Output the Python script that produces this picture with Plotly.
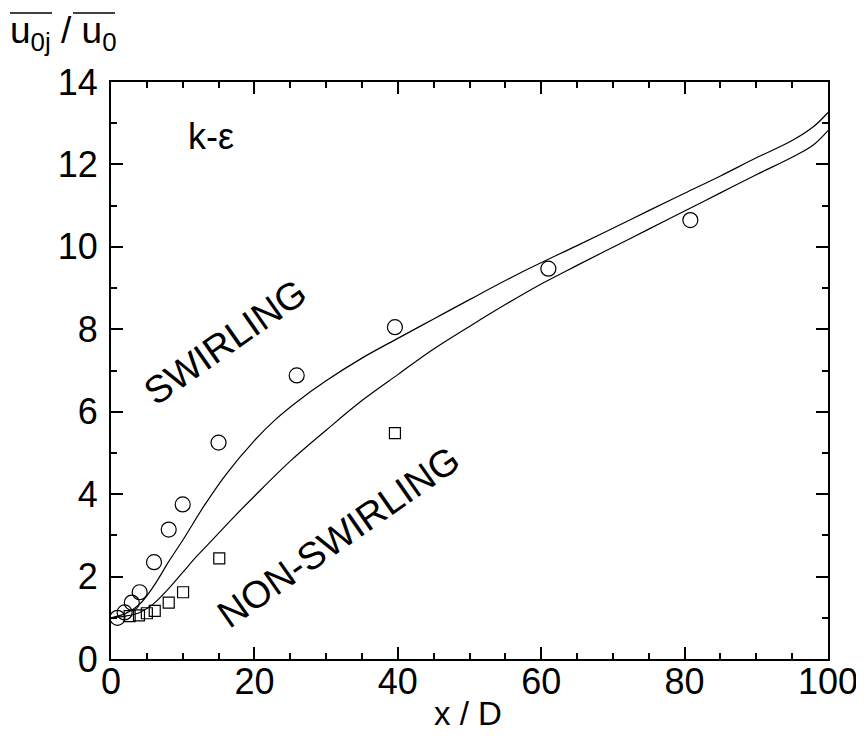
import plotly.graph_objects as go

# Measured data (circles: swirling, squares: non-swirling)
swirl_x = [0.9, 1.9, 2.9, 4.0, 6.0, 8.05, 10.0, 15.0, 25.9, 39.6, 61.0, 80.8]
swirl_y = [1.0, 1.13, 1.37, 1.62, 2.35, 3.14, 3.75, 5.25, 6.88, 8.05, 9.47, 10.65]
nons_x = [2.6, 3.9, 5.0, 6.1, 8.05, 10.05, 15.1, 39.6]
nons_y = [1.04, 1.06, 1.11, 1.17, 1.37, 1.62, 2.44, 5.48]

# k-epsilon predictions
swirl_cx = [0, 2, 4, 6, 8, 10, 13, 16, 20, 23, 26, 30, 35, 40, 45, 50, 57, 65, 70, 75, 80, 85, 90, 95, 98, 100]
swirl_cy = [1.0, 1.1, 1.33, 1.78, 2.35, 2.88, 3.72, 4.47, 5.3, 5.82, 6.25, 6.75, 7.3, 7.78, 8.25, 8.72, 9.36, 10.03, 10.45, 10.88, 11.3, 11.72, 12.16, 12.58, 12.92, 13.26]
nons_cx = [0, 2, 4, 6, 8, 10, 12, 14.3, 17, 20, 25, 30, 35, 40, 45, 50, 55, 60, 65, 70, 75, 80, 85, 90, 95.6, 98, 100]
nons_cy = [1.0, 1.04, 1.13, 1.35, 1.7, 2.1, 2.5, 2.92, 3.42, 3.95, 4.8, 5.55, 6.27, 6.9, 7.52, 8.07, 8.6, 9.1, 9.55, 9.99, 10.43, 10.87, 11.31, 11.75, 12.23, 12.48, 12.82]

FONT = "Liberation Sans, Arial, sans-serif"

fig = go.Figure()
fig.add_trace(go.Scatter(x=swirl_cx, y=swirl_cy, mode="lines", line=dict(color="black", width=1.2, shape="spline"), showlegend=False))
fig.add_trace(go.Scatter(x=nons_cx, y=nons_cy, mode="lines", line=dict(color="black", width=1.2, shape="spline"), showlegend=False))
fig.add_trace(go.Scatter(x=swirl_x, y=swirl_y, mode="markers",
                         marker=dict(symbol="circle-open", size=15, color="black", line=dict(width=1.2)), showlegend=False))
fig.add_trace(go.Scatter(x=nons_x, y=nons_y, mode="markers",
                         marker=dict(symbol="square-open", size=11, color="black", line=dict(width=1.2)), showlegend=False))

axis_common = dict(showline=True, linecolor="black", linewidth=2, mirror="ticks",
                   ticks="inside", ticklen=12, tickwidth=1.5, tickcolor="black",
                   showgrid=False, zeroline=False, automargin=False,
                   tickfont=dict(family=FONT, size=36, color="black"))

fig.update_xaxes(range=[0, 100], dtick=20, tick0=0, ticklabelstandoff=-10,
                 minor=dict(dtick=5, ticks="inside", ticklen=6, tickwidth=1.5, tickcolor="black"),
                 **axis_common)
fig.update_yaxes(range=[0, 14], dtick=2, tick0=0, ticklabelstandoff=4,
                 minor=dict(dtick=1, ticks="inside", ticklen=6, tickwidth=1.5, tickcolor="black"),
                 **axis_common)

def px(xp):
    return (xp - 111) / 717

def py(yp):
    return (659 - yp) / 577

fig.add_annotation(xref="paper", yref="paper", x=px(468), y=py(734), text="x / D", showarrow=False,
                   font=dict(family=FONT, size=33, color="black"))
fig.add_annotation(x=14.0, y=12.67, text="k-ε", showarrow=False,
                   font=dict(family=FONT, size=36, color="black"))
fig.add_annotation(x=15.9, y=7.7, text="SWIRLING", showarrow=False, textangle=-35,
                   font=dict(family=FONT, size=38, color="black"))
fig.add_annotation(x=31.7, y=2.96, text="NON-SWIRLING", showarrow=False, textangle=-35,
                   font=dict(family=FONT, size=38, color="black"))

# y-axis title with overlines
fig.add_annotation(xref="paper", yref="paper", x=px(8), y=py(33),
                   xanchor="left", yanchor="middle", showarrow=False,
                   text="u<sub>0j</sub> / u<sub>0</sub>",
                   font=dict(family=FONT, size=37, color="black"))
for x0, x1 in [(10, 52), (73, 115)]:
    fig.add_shape(type="line", xref="paper", yref="paper",
                  x0=px(x0), x1=px(x1), y0=py(13), y1=py(13),
                  line=dict(color="black", width=1.5))

# page body has an 8px margin: shift figure so the plot area lands at the reference position
fig.update_layout(width=856, height=737, plot_bgcolor="white", paper_bgcolor="white",
                  margin=dict(l=103, r=36, t=74, b=86), showlegend=False)

fig.write_html("out.html")
